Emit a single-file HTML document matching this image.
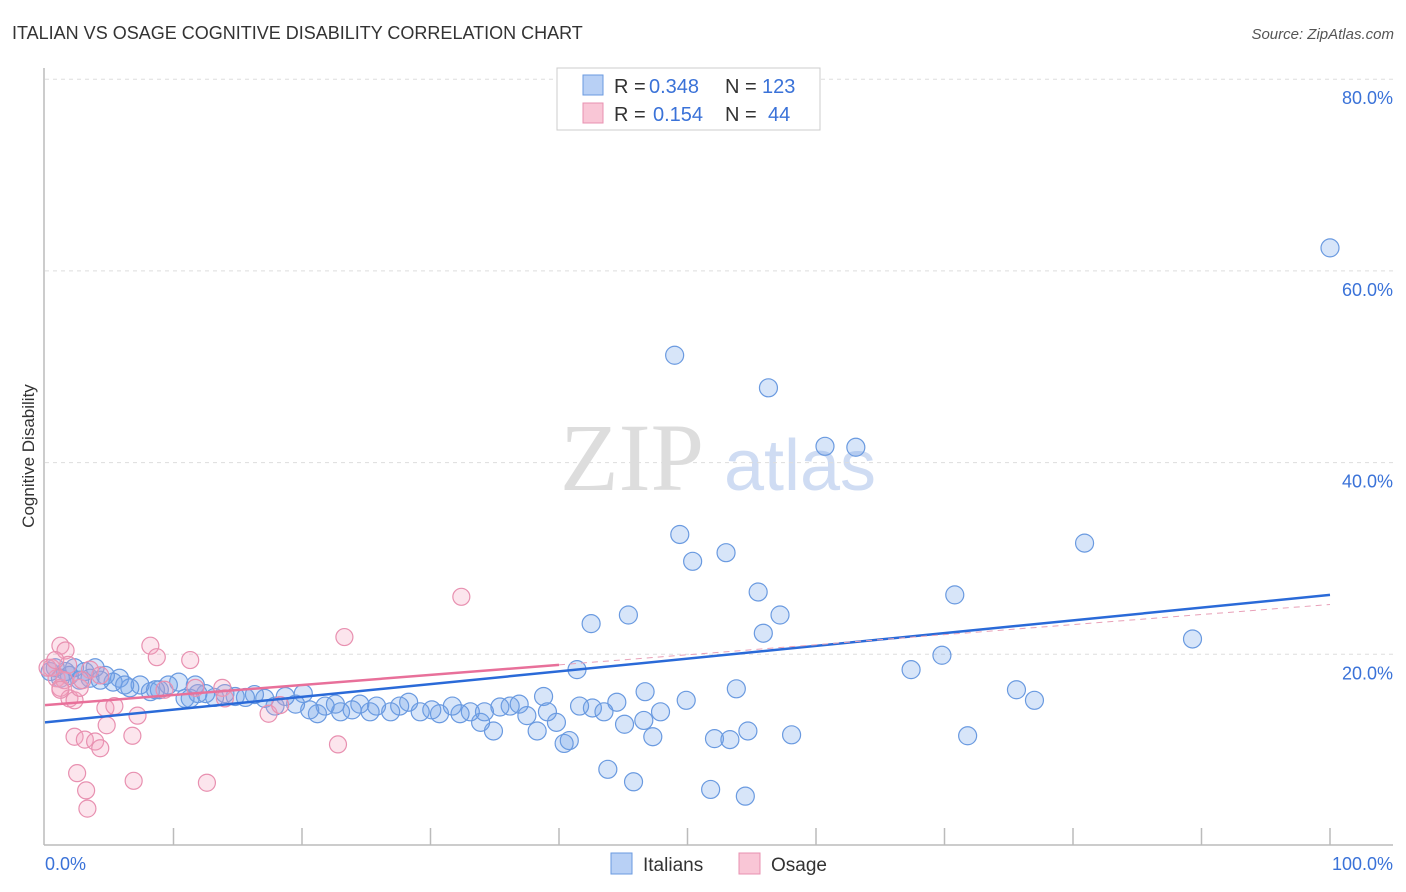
<!DOCTYPE html>
<html><head><meta charset="utf-8"><style>
body{margin:0;background:#fff;font-family:"Liberation Sans",sans-serif;}
svg{display:block}
</style></head><body>
<svg id="chart" width="1406" height="892" xmlns="http://www.w3.org/2000/svg">
<text x="12" y="39" font-size="18" fill="#333">ITALIAN VS OSAGE COGNITIVE DISABILITY CORRELATION CHART</text>
<text x="1394" y="39" font-size="15" fill="#555" font-style="italic" text-anchor="end">Source: ZipAtlas.com</text>
<text x="34" y="456" font-size="17" fill="#333" text-anchor="middle" transform="rotate(-90 34 456)">Cognitive Disability</text>
<g><text x="632" y="490" font-size="96" fill="#ddd" font-family="Liberation Serif,serif" text-anchor="middle">ZIP</text><text x="800" y="490" font-size="72" fill="#cfdcf3" text-anchor="middle">atlas</text></g>
<g id="grid"></g><g id="axes"></g><g id="pts"></g><g id="lines"></g>
<g>
<rect x="557" y="68" width="263" height="62" fill="#fff" stroke="#ccc"/>
<rect x="583" y="75" width="20" height="20" fill="#b8d0f5" stroke="#6a9ae0"/>
<rect x="583" y="103" width="20" height="20" fill="#f9c6d6" stroke="#e890b0"/>
<text x="614" y="93" font-size="20" fill="#333">R =</text><text x="649" y="93" font-size="20" fill="#3a72d8">0.348</text>
<text x="725" y="93" font-size="20" fill="#333">N =</text><text x="762" y="93" font-size="20" fill="#3a72d8">123</text>
<text x="614" y="121" font-size="20" fill="#333">R =</text><text x="653" y="121" font-size="20" fill="#3a72d8">0.154</text>
<text x="725" y="121" font-size="20" fill="#333">N =</text><text x="768" y="121" font-size="20" fill="#3a72d8">44</text>
</g>
<g>
<rect x="611" y="853" width="21" height="21" fill="#b8d0f5" stroke="#6a9ae0"/>
<text x="643" y="871" font-size="19" fill="#333">Italians</text>
<rect x="739" y="853" width="21" height="21" fill="#f9c6d6" stroke="#e890b0"/>
<text x="771" y="871" font-size="19" fill="#333">Osage</text>
</g>
</svg>
<script>
const yTicks=[20,40,60,80];
const yTickLabels=["20.0%","40.0%","60.0%","80.0%"];
const blueX=[100,49.0,56.3,60.7,63.1,49.4,53.0,50.4,80.9,55.5,70.8,45.4,57.2,42.5,55.9,89.3,69.8,67.4,41.4,75.6,77.0,53.8,46.7,49.9,44.5,38.8,71.8,58.1,54.7,52.1,53.3,47.3,45.1,46.6,47.9,42.6,43.5,41.6,39.8,39.1,38.3,40.8,40.4,34.9,43.8,45.8,51.8,54.5,33.9,36.2,37.5,36.9,35.4,34.2,33.1,32.3,31.7,30.7,30.1,29.2,28.3,27.6,26.9,25.8,25.3,24.5,23.9,23.0,22.6,21.8,21.2,20.6,20.1,19.5,18.7,17.9,17.1,16.3,15.6,14.8,14.0,13.2,12.5,11.9,11.3,10.9,10.4,9.6,8.9,8.2,7.4,6.6,5.8,5.3,4.7,3.9,3.1,2.3,1.6,0.8,0.4,1.2,1.9,2.7,3.5,4.3,6.2,8.6,11.7];
const blueY=[62.4,51.2,47.8,41.7,41.6,32.5,30.6,29.7,31.6,26.5,26.2,24.1,24.1,23.2,22.2,21.6,19.9,18.4,18.4,16.3,15.2,16.4,16.1,15.2,15.0,15.6,11.5,11.6,12.0,11.2,11.1,11.4,12.7,13.1,14.0,14.4,14.0,14.6,12.9,14.0,12.0,11.0,10.7,12.0,8.0,6.7,5.9,5.2,12.9,14.6,13.6,14.8,14.5,14.0,14.0,13.8,14.6,13.8,14.2,14.0,15.0,14.6,14.0,14.6,14.0,14.8,14.2,14.0,14.8,14.6,13.8,14.2,15.9,14.8,15.6,14.6,15.4,15.8,15.5,15.6,15.9,15.5,15.9,15.9,15.4,15.4,17.1,16.8,16.3,16.1,16.8,16.5,17.5,17.1,17.8,18.6,18.2,18.6,18.2,18.6,18.2,17.5,17.8,17.3,17.5,17.3,16.8,16.3,16.8];
const pinkX=[1.2,1.6,1.8,0.5,0.9,1.2,1.9,2.3,2.7,3.5,4.3,4.7,5.4,4.8,2.3,3.1,3.9,4.3,6.8,7.2,8.2,8.7,11.3,9.3,11.7,13.8,14.0,17.4,18.3,23.3,22.8,32.4,2.5,3.2,3.3,6.9,12.6,0.2,0.8,1.5,2.9,1.2];
const pinkY=[20.9,20.4,18.9,18.6,17.5,16.5,15.4,15.2,16.5,18.4,17.8,14.4,14.6,12.6,11.4,11.1,10.9,10.2,11.5,13.6,20.9,19.7,19.4,16.3,16.5,16.5,15.4,13.8,14.7,21.8,10.6,26.0,7.6,5.8,3.9,6.8,6.6,18.6,19.4,17.3,17.3,16.3];
const blueTrend=[12.9,26.2];
const pinkTrend=[14.7,25.2];
const pinkSolidEnd=40;
const NS="http://www.w3.org/2000/svg";
const xS=v=>45+v*12.85, yS=v=>846-v*9.585;
function mk(tag,attrs,parent){const e=document.createElementNS(NS,tag);for(const k in attrs)e.setAttribute(k,attrs[k]);parent.appendChild(e);return e;}
const grid=document.getElementById('grid'),axes=document.getElementById('axes'),pts=document.getElementById('pts'),lines=document.getElementById('lines');
yTicks.forEach((t,i)=>{
 const l=mk('line',{x1:45,x2:1393,y1:yS(t),y2:yS(t),stroke:'#ddd','stroke-dasharray':'4,4'},grid);
 
 
 const tx=mk('text',{x:1393,y:yS(t)+25,'font-size':18,fill:'#3a72d8','text-anchor':'end'},grid);tx.textContent=yTickLabels[i];
 
 
});
const ax=mk('line',{x1:44,x2:1393,y1:845,y2:845,stroke:'#bbb','stroke-width':1.5},axes);


const ay=mk('line',{x1:44,x2:44,y1:68,y2:845,stroke:'#bbb','stroke-width':1.5},axes);


for(let i=1;i<=10;i++){const t=mk('line',{x1:xS(i*10),x2:xS(i*10),y1:828,y2:845,stroke:'#bbb','stroke-width':1.5},axes);
 
 }
const x0=mk('text',{x:45,y:870,'font-size':18,fill:'#3a72d8'},axes);x0.textContent='0.0%';


const x1=mk('text',{x:1393,y:870,'font-size':18,fill:'#3a72d8','text-anchor':'end'},axes);x1.textContent='100.0%';


blueX.forEach((x,i)=>{const c=mk('circle',{cx:xS(x),cy:yS(blueY[i]),r:9,fill:'rgba(110,160,235,0.28)',stroke:'#6a9ae0','stroke-width':1.2},pts);
 
 });
pinkX.forEach((x,i)=>{const c=mk('circle',{cx:xS(x),cy:yS(pinkY[i]),r:8.5,fill:'rgba(245,160,190,0.28)',stroke:'#e890b0','stroke-width':1.2},pts);
 
 });
const bl=mk('line',{x1:xS(0),y1:yS(blueTrend[0]),x2:xS(100),y2:yS(blueTrend[1]),stroke:'#2a6ad8','stroke-width':2.5},lines);


const pm=pinkTrend[0]+(pinkTrend[1]-pinkTrend[0])*pinkSolidEnd/100;
const pl=mk('line',{x1:xS(0),y1:yS(pinkTrend[0]),x2:xS(pinkSolidEnd),y2:yS(pm),stroke:'#e8709a','stroke-width':2.5},lines);


const pd=mk('line',{x1:xS(pinkSolidEnd),y1:yS(pm),x2:xS(100),y2:yS(pinkTrend[1]),stroke:'#e8a0b8','stroke-width':1,'stroke-dasharray':'6,5'},lines);


</script>
</body></html>
